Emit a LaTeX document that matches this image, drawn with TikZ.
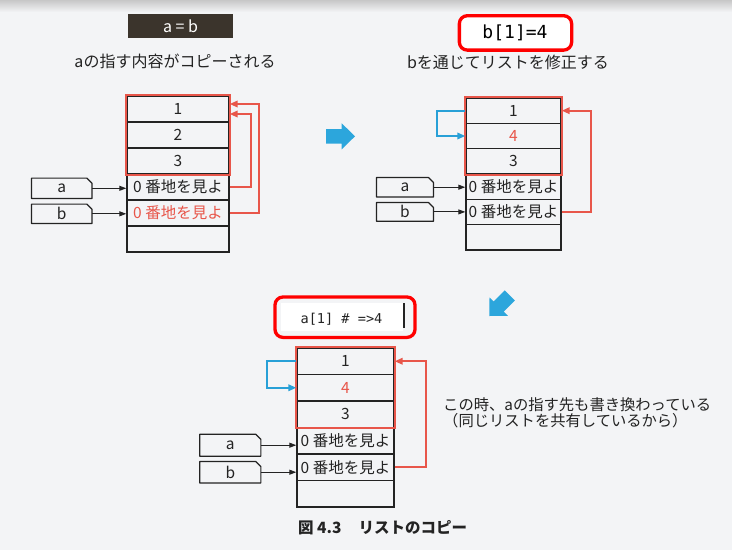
\documentclass[tikz,border=0pt]{standalone}
\usepackage{fontspec}
\setmainfont{Noto Sans CJK JP}
\newfontfamily\codefont{DejaVu Sans Mono}
\usetikzlibrary{arrows.meta}
\definecolor{bg}{RGB}{243,244,246}
\definecolor{lred}{RGB}{232,86,74}
\definecolor{lblue}{RGB}{40,160,215}
\definecolor{ink}{RGB}{35,35,35}
\definecolor{darkbox}{RGB}{59,52,44}
\definecolor{hred}{RGB}{255,0,0}
\definecolor{bigblue}{RGB}{44,166,220}
\newcommand\tagoutline[1]{\draw[ink, line width=1.2pt, line join=round] (#1.north west) -- ([xshift=-5pt]#1.north east) -- ([yshift=-5pt]#1.north east) -- (#1.south east) -- (#1.south west) -- cycle;}
\newcommand\bigarrowshape{\fill[bigblue] (0,0) -- (-13.3,13) -- (-13.3,7.2) -- (-29,7.2) -- (-29,-7.2) -- (-13.3,-7.2) -- (-13.3,-13) -- cycle;}
\begin{document}
\begin{tikzpicture}[x=1pt,y=-1pt,
  cell/.style={draw=ink, line width=1.4pt, inner sep=0pt, text=ink, font=\fontsize{15.5}{18}\selectfont},
  tagnode/.style={inner sep=0pt, text=ink, font=\fontsize{15.5}{18}\selectfont},
  blkarrow/.style={draw=ink, line width=1pt, -{Triangle[length=7pt,width=5pt]}},
  redarrow/.style={draw=lred, line width=1.9pt, -{Triangle[length=8pt,width=6.5pt]}},
  bluearrow/.style={draw=lblue, line width=1.9pt, -{Triangle[length=8pt,width=6.5pt]}},
  redframe/.style={draw=lred, line width=2pt},
  label/.style={inner sep=0pt, text=ink, font=\fontsize{16}{18}\selectfont},
  note/.style={inner sep=0pt, text=ink, anchor=west, font=\fontsize{15.3}{18}\selectfont},
  hbox/.style={draw=hred, line width=3.3pt, rounded corners=8pt, inner sep=0pt}]
\fill[bg] (0,0) rectangle (732,550);
\shade[top color=black!22, bottom color=bg] (0,0) rectangle (732,12);
\useasboundingbox (0,0) rectangle (732,550);

% ---------- headings ----------
\node[fill=darkbox, text=white, inner sep=0pt, minimum width=105.6, minimum height=23.7, font=\fontsize{16}{18}\selectfont] (hdA) at (180.5,25.9) {a = b};
\node[label] (lbA) at (175,61) {aの指す内容がコピーされる};
\node[hbox, fill=white, minimum width=112.3, minimum height=34.4] (hdB) at (515.5,32.9) {};
\node[inner sep=0pt, font=\codefont\fontsize{18}{20}\selectfont] (hdBt) at (515,33) {b[1]=4};
\node[label] (lbB) at (508,62.3) {bを通じてリストを修正する};

% ---------- diagram 1 ----------
\foreach \i/\t in {1/1,2/2,3/3,4/{0 番地を見よ},5/{\textcolor{lred}{0 番地を見よ}},6/{}}
  \node[cell, minimum width=102, minimum height=26] (A\i) at (178,{96+(\i-0.5)*26}) {\t};
\draw[redframe] (A1.north west) rectangle (A3.south east);
\node[tagnode, minimum width=60, minimum height=20] (TA1) at (61.7,188.3) {a};
\node[tagnode, minimum width=60, minimum height=19] (TA2) at (61.7,213.8) {b};
\tagoutline{TA1}\tagoutline{TA2}
\draw[blkarrow] (TA1.east) -- (TA1.east -| A4.west);
\draw[blkarrow] (TA2.east) -- (TA2.east -| A5.west);
\draw[redarrow] (A4.east) -- ++(21,0) |- ([yshift=-5pt]A1.east);
\draw[redarrow] (A5.east) -- ++(29,0) |- ([yshift=5pt]A1.east);

% ---------- big arrows ----------
\begin{scope}[shift={(355,136.3)}, x={(1pt,0pt)}, y={(0pt,-1pt)}]
  \bigarrowshape
\end{scope}
\begin{scope}[shift={(489.3,316)}, x={(-0.7071pt,-0.7071pt)}, y={(0.7071pt,-0.7071pt)}]
  \bigarrowshape
\end{scope}

% ---------- diagram 2 ----------
\foreach \i/\t in {1/1,2/{\textcolor{lred}{4}},3/3,4/{0 番地を見よ},5/{0 番地を見よ},6/{}}
  \node[cell, minimum width=95, minimum height=25.33] (B\i) at (513.5,{98+(\i-0.5)*25.33}) {\t};
\draw[redframe] (B1.north west) rectangle (B3.south east);
\node[tagnode, minimum width=56.6, minimum height=19] (TB1) at (405,187.2) {a};
\node[tagnode, minimum width=56.6, minimum height=18.3] (TB2) at (405,211.9) {b};
\tagoutline{TB1}\tagoutline{TB2}
\draw[blkarrow] (TB1.east) -- (TB1.east -| B4.west);
\draw[blkarrow] (TB2.east) -- (TB2.east -| B5.west);
\draw[bluearrow] (B1.west) -- ++(-28,0) |- (B2.west);
\draw[redarrow] (B5.east) -- ++(29,0) |- (B1.east);

% ---------- code box ----------
\node[hbox, fill=bg, minimum width=140, minimum height=40.4] (hdC) at (345,317.2) {};
\fill[white] (281,303) rectangle (403.3,331.3);
\coordinate (barTop) at (404.3,303);
\coordinate (barBot) at (404.3,328);
\draw[ink, line width=2pt] (barTop) -- (barBot);
\node[inner sep=0pt, text=ink, font=\codefont\fontsize{13.6}{16}\selectfont] (hdCt) at (341.5,319.5) {a[1] \# =>4};

% ---------- diagram 3 ----------
\foreach \i/\t in {1/1,2/{\textcolor{lred}{4}},3/3,4/{0 番地を見よ},5/{0 番地を見よ},6/{}}
  \node[cell, minimum width=97, minimum height=26.5] (C\i) at (345.5,{348+(\i-0.5)*26.5}) {\t};
\draw[redframe] (C1.north west) rectangle (C3.south east);
\node[tagnode, minimum width=60.7, minimum height=21.5] (TC1) at (230.3,445.2) {a};
\node[tagnode, minimum width=60.7, minimum height=21] (TC2) at (230.3,472.2) {b};
\tagoutline{TC1}\tagoutline{TC2}
\draw[blkarrow] (TC1.east) -- (TC1.east -| C4.west);
\draw[blkarrow] (TC2.east) -- (TC2.east -| C5.west);
\draw[bluearrow] (C1.west) -- ++(-29.4,0) |- (C2.west);
\draw[redarrow] (C5.east) -- ++(31,0) |- (C1.east);

% ---------- notes ----------
\node[note] (n1) at (443,405) {この時、aの指す先も書き換わっている};
\node[note] (n2) at (443,421) {（同じリストを共有しているから）};
\node[inner sep=0pt, anchor=west, text=ink, font=\bfseries\fontsize{15.5}{18}\selectfont] (cap) at (298,528) {図 4.3\hspace{1.1em}リストのコピー};
\end{tikzpicture}
\end{document}
